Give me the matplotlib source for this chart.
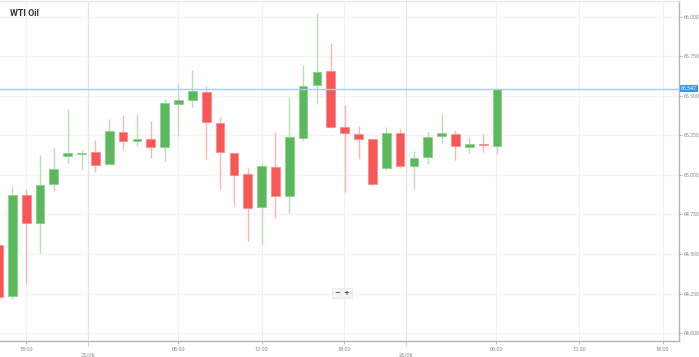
import matplotlib
matplotlib.use('Agg')
import matplotlib.pyplot as plt
import numpy as np

title = "WTI Oil"
opens  = [64.56, 64.235, 64.875, 64.698, 64.942, 65.121, 65.134, 65.146, 65.071, 65.274,
          65.218, 65.230, 65.180, 65.449, 65.474, 65.527, 65.329, 65.140, 65.005, 64.797,
          65.052, 64.869, 65.232, 65.569, 65.659, 65.306, 65.260, 65.226, 65.045, 65.266,
          65.056, 65.115, 65.247, 65.260, 65.178, 65.199, 65.184]
highs  = [64.56, 64.93, 64.91, 65.127, 65.169, 65.42, 65.155, 65.224, 65.355, 65.377,
          65.386, 65.344, 65.483, 65.573, 65.666, 65.563, 65.365, 65.140, 65.045, 65.077,
          65.274, 65.491, 65.695, 66.023, 65.834, 65.445, 65.310, 65.226, 65.302, 65.291,
          65.150, 65.274, 65.388, 65.287, 65.238, 65.262, 65.547]
lows   = [64.227, 64.213, 64.309, 64.509, 64.898, 65.074, 65.041, 65.018, 65.068, 65.155,
          65.186, 65.106, 65.087, 65.249, 65.428, 65.100, 64.910, 64.801, 64.582, 64.555,
          64.730, 64.759, 65.218, 65.449, 65.298, 64.891, 65.102, 64.934, 65.033, 65.043,
          64.913, 65.071, 65.203, 65.098, 65.138, 65.148, 65.134]
closes = [64.23, 64.873, 64.698, 64.936, 65.035, 65.140, 65.142, 65.064, 65.281, 65.216,
          65.226, 65.175, 65.456, 65.476, 65.533, 65.336, 65.148, 65.001, 64.793, 65.056,
          64.866, 65.238, 65.565, 65.653, 65.306, 65.266, 65.230, 64.944, 65.268, 65.058,
          65.109, 65.238, 65.266, 65.182, 65.197, 65.191, 65.547]
current_price = 65.547

y_ticks = [64.0, 64.25, 64.5, 64.75, 65.0, 65.25, 65.5, 65.75, 66.0]
time_tick_pos = [2, 13, 19, 24.95, 35.95, 41.95, 47.95]
time_tick_labels = ["18:00", "06:00", "12:00", "18:00", "06:00", "12:00", "18:00"]
date_tick_pos = [6.45, 29.45]
date_tick_labels = ["25/06", "26/06"]

GREEN = '#5cb85c'
RED = '#f75757'
GREEN_W = '#b5dfb5'
RED_W = '#fab6b6'

fig = plt.figure(figsize=(6.99, 3.57), dpi=100)
ax = fig.add_axes([0.0, 1 - 341/357, 679/699, 340/357])
ax.set_xlim(0.112, 49.14)
ax.set_ylim(63.9495, 66.101)

x = np.arange(len(opens))
o = np.array(opens); c = np.array(closes); h = np.array(highs); l = np.array(lows)
up = c >= o
body_bottom = np.minimum(o, c)
body_h = np.maximum(np.abs(c - o), 0.008)

# grid
for yt in y_ticks:
    ax.axhline(yt, color='#f2f2f2', lw=0.8, zorder=0)
for xt in time_tick_pos:
    ax.axvline(xt, color='#f0f0f0', lw=0.8, zorder=0)
for xt in date_tick_pos:
    ax.axvline(xt, color='#e4e4e4', lw=0.9, zorder=0)

ax.vlines(x[up], l[up], h[up], color=GREEN_W, lw=1.0, zorder=2)
ax.vlines(x[~up], l[~up], h[~up], color=RED_W, lw=1.0, zorder=2)
ax.bar(x[up], body_h[up], bottom=body_bottom[up], width=0.63, color=GREEN,
       edgecolor='#8fd08f', linewidth=0.6, zorder=3)
ax.bar(x[~up], body_h[~up], bottom=body_bottom[~up], width=0.63, color=RED,
       edgecolor='#fb8c8c', linewidth=0.6, zorder=3)

# current price line
ax.axhline(current_price, color='#9fd0f5', lw=1.0, zorder=4)

# axes styling
ax.spines['left'].set_visible(False)
ax.spines['top'].set_color('#e6e6e6')
ax.spines['top'].set_linewidth(0.8)
ax.spines['right'].set_color('#b5b5b5')
ax.spines['right'].set_linewidth(1.0)
ax.spines['bottom'].set_color('#b5b5b5')
ax.spines['bottom'].set_linewidth(1.0)

ax.yaxis.tick_right()
ax.set_yticks(y_ticks)
ax.set_yticklabels([f"{v:.3f}" for v in y_ticks], fontsize=3.7, color='#888888',
                   family='Roboto')
ax.tick_params(axis='y', length=2, width=0.6, color='#b5b5b5', pad=1.0)

ax.set_xticks(time_tick_pos)
ax.set_xticklabels(time_tick_labels, fontsize=4, color='#888888', family='Roboto')
ax.set_xticks(date_tick_pos, minor=True)
ax.set_xticklabels(date_tick_labels, minor=True, fontsize=4, color='#888888',
                   family='Roboto')
ax.tick_params(axis='x', which='major', length=2.5, width=0.6, color='#b5b5b5', pad=1.5)
ax.tick_params(axis='x', which='minor', length=3.5, width=0.6, color='#cccccc', pad=5.0)

# price tag
ax.text(1.003, current_price, f"{current_price:.3f}", transform=ax.get_yaxis_transform(),
        fontsize=3.7, color='white', family='Roboto', va='center', ha='left',
        bbox=dict(boxstyle='square,pad=0.25', fc='#2e9bf0', ec='none'), zorder=6,
        clip_on=False)

# title
ax.text(10/679, 1 - 12/340, title, transform=ax.transAxes, fontsize=6.5,
        fontweight='bold', color='#333333', family='Roboto', va='center', ha='left')

# zoom buttons
for sym, px in [("\u2212", 337.5), ("+", 346.5)]:
    ax.text(px/679, (341-293)/340, sym, transform=ax.transAxes, fontsize=5,
            color='#444444', ha='center', va='center', family='DejaVu Sans',
            fontweight='bold',
            bbox=dict(boxstyle='square,pad=0.3', fc='#f4f4f4', ec='#e6e6e6', lw=0.5))

fig.savefig('out.png', dpi=100)
